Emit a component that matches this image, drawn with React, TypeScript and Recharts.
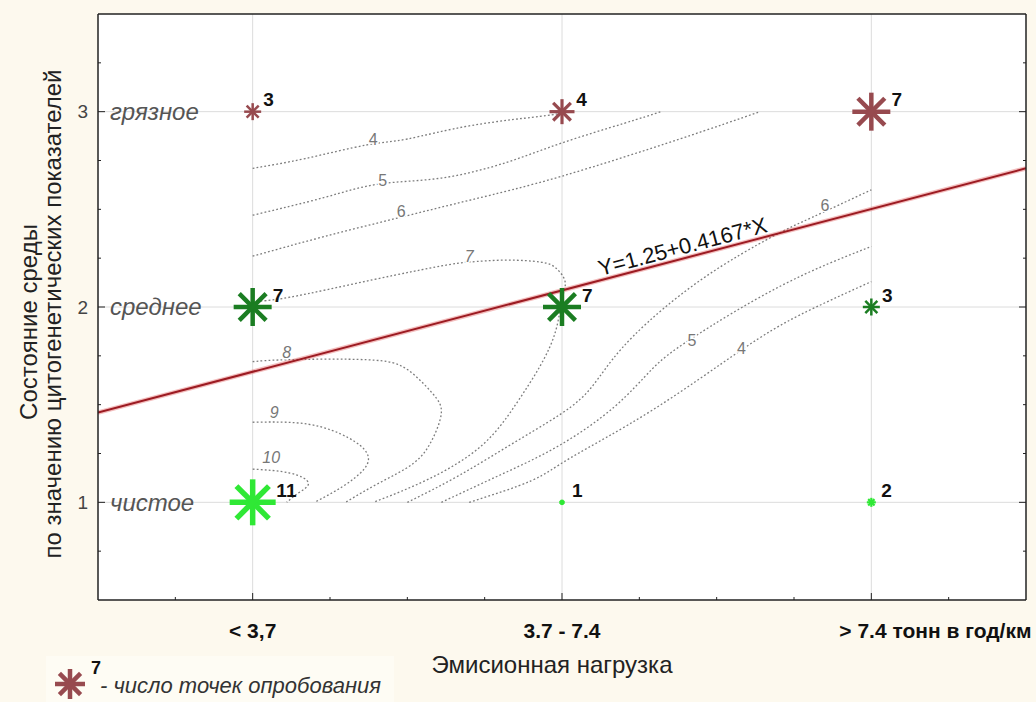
import React from "react";
import {
  ComposedChart, XAxis, YAxis, CartesianGrid, Line, Scatter, ReferenceLine,
} from "recharts";

const FONT = '"Liberation Sans", Arial, sans-serif';

// categories on both axes (positions 1..3)
const catPos = [1, 2, 3];
const emissionCats = ["< 3,7", "3.7 - 7.4", "> 7.4 тонн в год/км"];
const stateCats = ["чистое", "среднее", "грязное"];
const minorTicks = [0.75, 1, 1.25, 1.5, 1.75, 2, 2.25, 2.5, 2.75, 3, 3.25];

// number of sampling points in each cell
const polluted = [
  { x: 1, y: 3, n: 3 },
  { x: 2, y: 3, n: 4 },
  { x: 3, y: 3, n: 7 },
];
const medium = [
  { x: 1, y: 2, n: 7 },
  { x: 2, y: 2, n: 7 },
  { x: 3, y: 2, n: 3 },
];
const clean = [
  { x: 1, y: 1, n: 11 },
  { x: 2, y: 1, n: 1 },
  { x: 3, y: 1, n: 2 },
];

// regression line, read at the plot edges
const regression = [
  { x: 0.5, y: 1.46 },
  { x: 3.5, y: 2.71 },
];
const eqLabel = [{ x: 2.39, y: 2.31, text: "Y=1.25+0.4167*X" }];

// contour lines
const c4a = [
  { x: 1.0, y: 2.71 }, { x: 1.17, y: 2.76 }, { x: 1.37, y: 2.83 }, { x: 1.5, y: 2.86 },
  { x: 1.71, y: 2.93 }, { x: 1.95, y: 2.98 }, { x: 2.0, y: 3.0 },
];
const c5a = [
  { x: 1.0, y: 2.47 }, { x: 1.23, y: 2.56 }, { x: 1.41, y: 2.63 }, { x: 1.61, y: 2.66 },
  { x: 1.82, y: 2.74 }, { x: 2.0, y: 2.84 }, { x: 2.2, y: 2.94 }, { x: 2.32, y: 3.0 },
];
const c6a = [
  { x: 1.0, y: 2.26 }, { x: 1.23, y: 2.36 }, { x: 1.48, y: 2.46 }, { x: 1.71, y: 2.55 },
  { x: 2.0, y: 2.67 }, { x: 2.38, y: 2.86 }, { x: 2.64, y: 3.0 },
];
const c7 = [
  { x: 1.0, y: 2.03 }, { x: 1.12, y: 2.05 }, { x: 1.39, y: 2.14 }, { x: 1.61, y: 2.21 },
  { x: 1.7, y: 2.23 }, { x: 1.82, y: 2.24 }, { x: 1.93, y: 2.23 }, { x: 1.98, y: 2.2 },
  { x: 2.01, y: 2.13 }, { x: 2.0, y: 2.04 }, { x: 1.98, y: 1.88 }, { x: 1.93, y: 1.7 },
  { x: 1.85, y: 1.5 }, { x: 1.74, y: 1.29 }, { x: 1.57, y: 1.12 }, { x: 1.39, y: 1.0 },
];
const c8 = [
  { x: 1.0, y: 1.72 }, { x: 1.11, y: 1.73 }, { x: 1.37, y: 1.73 }, { x: 1.5, y: 1.68 },
  { x: 1.58, y: 1.56 }, { x: 1.61, y: 1.46 }, { x: 1.58, y: 1.32 }, { x: 1.52, y: 1.2 },
  { x: 1.41, y: 1.1 }, { x: 1.3, y: 1.0 },
];
const c9 = [
  { x: 1.0, y: 1.41 }, { x: 1.18, y: 1.4 }, { x: 1.31, y: 1.33 }, { x: 1.37, y: 1.25 },
  { x: 1.36, y: 1.17 }, { x: 1.29, y: 1.08 }, { x: 1.2, y: 1.0 },
];
const c10 = [
  { x: 1.0, y: 1.17 }, { x: 1.12, y: 1.15 }, { x: 1.18, y: 1.1 }, { x: 1.15, y: 1.05 },
  { x: 1.11, y: 1.0 },
];
const c6b = [
  { x: 1.5, y: 1.0 }, { x: 1.67, y: 1.14 }, { x: 1.86, y: 1.32 }, { x: 2.03, y: 1.49 },
  { x: 2.12, y: 1.64 }, { x: 2.23, y: 1.85 }, { x: 2.45, y: 2.14 }, { x: 2.68, y: 2.36 },
  { x: 2.81, y: 2.46 }, { x: 3.0, y: 2.6 },
];
const c5b = [
  { x: 1.61, y: 1.0 }, { x: 1.8, y: 1.14 }, { x: 1.99, y: 1.29 }, { x: 2.17, y: 1.49 },
  { x: 2.29, y: 1.68 }, { x: 2.42, y: 1.84 }, { x: 2.71, y: 2.11 }, { x: 3.0, y: 2.31 },
];
const c4b = [
  { x: 1.7, y: 1.0 }, { x: 1.9, y: 1.11 }, { x: 2.03, y: 1.23 }, { x: 2.29, y: 1.47 },
  { x: 2.58, y: 1.78 }, { x: 2.77, y: 1.96 }, { x: 3.0, y: 2.13 },
];
const contours = [c4a, c5a, c6a, c7, c8, c9, c10, c6b, c5b, c4b];

const contourLabels = [
  { x: 1.39, y: 2.86, v: "4" },
  { x: 1.42, y: 2.65, v: "5" },
  { x: 1.48, y: 2.49, v: "6" },
  { x: 1.7, y: 2.26, v: "7" },
  { x: 1.11, y: 1.77, v: "8" },
  { x: 1.07, y: 1.46, v: "9" },
  { x: 1.06, y: 1.23, v: "10" },
  { x: 2.85, y: 2.52, v: "6" },
  { x: 2.42, y: 1.83, v: "5" },
  { x: 2.58, y: 1.79, v: "4" },
];

// star size / stroke by count (style lookup)
const starR: Record<number, number> = { 1: 2.5, 2: 4.5, 3: 8.5, 4: 12.5, 7: 19, 11: 23 };
const starW: Record<number, number> = { 1: 3, 2: 2.2, 3: 2.5, 4: 3.2, 7: 4.5, 11: 5.5 };

const BROWN = "#974a4f";
const DKGREEN = "#1b7d22";
const GREEN = "#2fe835";

function StarPath({ cx, cy, r, w, color }: any) {
  const d = r * 0.7071;
  return (
    <g stroke={color} strokeWidth={w} strokeLinecap="butt">
      <line x1={cx} y1={cy - r} x2={cx} y2={cy + r} />
      <line x1={cx - r} y1={cy} x2={cx + r} y2={cy} />
      <line x1={cx - d} y1={cy - d} x2={cx + d} y2={cy + d} />
      <line x1={cx - d} y1={cy + d} x2={cx + d} y2={cy - d} />
    </g>
  );
}

const makeStar = (color: string) => (props: any) => {
  const { cx, cy, payload } = props;
  const r = starR[payload.n] ?? 10;
  const w = starW[payload.n] ?? 3;
  return (
    <g>
      <StarPath cx={cx} cy={cy} r={r} w={w} color={color} />
      <text
        x={cx + Math.max(10, r * 0.9 + 3)}
        y={cy - 12}
        dy="0.35em"
        fontFamily={FONT}
        fontWeight="bold"
        fontSize={19}
        fill="#111"
      >
        {payload.n}
      </text>
    </g>
  );
};

const ContourLabel = (props: any) => {
  const { cx, cy, payload } = props;
  return (
    <text
      x={cx}
      y={cy}
      dy="0.35em"
      textAnchor="middle"
      fontFamily={FONT}
      fontSize={16}
      fontStyle={Number(payload.v) >= 7 ? "italic" : "normal"}
      fill="#777"
      stroke="#fff"
      strokeWidth={3}
      paintOrder="stroke"
    >
      {payload.v}
    </text>
  );
};

const EqLabel = (props: any) => {
  const { cx, cy, payload } = props;
  return (
    <text
      x={cx}
      y={cy}
      dy="0.35em"
      textAnchor="middle"
      fontFamily={FONT}
      fontSize={22}
      fill="#111"
      transform={`rotate(-14.8 ${cx} ${cy})`}
    >
      {payload.text}
    </text>
  );
};

const isMajor = (v: number) => catPos.indexOf(v) >= 0;

const BottomTick = (props: any) => {
  const { x, y, payload } = props;
  const i = catPos.indexOf(payload.value);
  return (
    <g>
      <line x1={x} x2={x} y1={y} y2={y - (i >= 0 ? 7 : 3)} stroke="#222" />
      {i >= 0 && (
        <text
          x={i === 2 ? x - 32 : x}
          y={y + 38}
          textAnchor={i === 2 ? "start" : "middle"}
          fontFamily={FONT}
          fontWeight="bold"
          fontSize={21}
          fill="#111"
        >
          {emissionCats[i]}
        </text>
      )}
    </g>
  );
};

const TopTick = (props: any) => {
  const { x, y, payload } = props;
  return <line x1={x} x2={x} y1={y} y2={y + (isMajor(payload.value) ? 7 : 3)} stroke="#222" />;
};

const LeftTick = (props: any) => {
  const { x, y, payload } = props;
  const i = catPos.indexOf(payload.value);
  return (
    <g>
      <line x1={x} x2={x + (i >= 0 ? 7 : 3)} y1={y} y2={y} stroke="#222" />
      {i >= 0 && (
        <>
          <text x={x - 10} y={y} dy="0.35em" textAnchor="end" fontFamily={FONT} fontSize={19} fill="#444">
            {catPos[i]}
          </text>
          <text x={x + 12} y={y} dy="0.35em" fontFamily={FONT} fontSize={24} fontStyle="italic" fill="#555">
            {stateCats[i]}
          </text>
        </>
      )}
    </g>
  );
};

const RightTick = (props: any) => {
  const { x, y, payload } = props;
  return <line x1={x} x2={x - (isMajor(payload.value) ? 7 : 3)} y1={y} y2={y} stroke="#222" />;
};

export default function App() {
  return (
    <div
      style={{
        position: "absolute",
        left: 0,
        top: 0,
        width: 1036,
        height: 702,
        background: "#fdf9ee",
        overflow: "hidden",
      }}
    >
      <svg width={1036} height={702} style={{ position: "absolute", left: 0, top: 0 }}>
        <rect x={46} y={656} width={348} height={46} fill="#fefcf4" />
      </svg>
      <div style={{ position: "absolute", left: 0, top: 0 }}>
        <ComposedChart width={1036} height={702} margin={{ top: 14, right: 10, bottom: 0, left: 0 }}>
          <CartesianGrid horizontal={false} vertical={false} fill="#ffffff" />
          <XAxis
            dataKey="x"
            type="number"
            domain={[0.5, 3.5]}
            allowDataOverflow
            ticks={minorTicks}
            interval={0}
            height={102}
            tickSize={0}
            tickMargin={0}
            tickLine={false}
            axisLine={{ stroke: "#222", strokeWidth: 1.5 }}
            tick={<BottomTick />}
          />
          <XAxis
            xAxisId="top"
            orientation="top"
            mirror
            type="number"
            domain={[0.5, 3.5]}
            allowDataOverflow
            ticks={minorTicks}
            interval={0}
            tickSize={0}
            tickMargin={0}
            tickLine={false}
            axisLine={{ stroke: "#222", strokeWidth: 1.5 }}
            tick={<TopTick />}
          />
          <YAxis
            dataKey="y"
            type="number"
            domain={[0.5, 3.5]}
            allowDataOverflow
            ticks={minorTicks}
            interval={0}
            width={98}
            tickSize={0}
            tickMargin={0}
            tickLine={false}
            axisLine={{ stroke: "#222", strokeWidth: 1.5 }}
            tick={<LeftTick />}
          />
          <YAxis
            yAxisId="right"
            orientation="right"
            mirror
            type="number"
            domain={[0.5, 3.5]}
            allowDataOverflow
            ticks={minorTicks}
            interval={0}
            tickSize={0}
            tickMargin={0}
            tickLine={false}
            axisLine={{ stroke: "#222", strokeWidth: 1.5 }}
            tick={<RightTick />}
          />
          {catPos.map((v) => (
            <ReferenceLine key={`vx${v}`} x={v} stroke="#dcdcdc" strokeWidth={1} />
          ))}
          {catPos.map((v) => (
            <ReferenceLine key={`hy${v}`} y={v} stroke="#dcdcdc" strokeWidth={1} />
          ))}
          {contours.map((c, i) => (
            <Line
              key={`c${i}`}
              data={c}
              dataKey="y"
              type="natural"
              stroke="#7c7c7c"
              strokeWidth={1.3}
              strokeDasharray="1.8 2.2"
              dot={false}
              activeDot={false}
              isAnimationActive={false}
            />
          ))}
          <Scatter data={contourLabels} shape={<ContourLabel />} isAnimationActive={false} />
          <Line
            data={regression}
            dataKey="y"
            type="linear"
            stroke="rgba(220,70,70,0.35)"
            strokeWidth={4.5}
            dot={false}
            activeDot={false}
            isAnimationActive={false}
          />
          <Line
            data={regression}
            dataKey="y"
            type="linear"
            stroke="#9c1b22"
            strokeWidth={2}
            dot={false}
            activeDot={false}
            isAnimationActive={false}
          />
          <Scatter data={eqLabel} shape={<EqLabel />} isAnimationActive={false} />
          <Scatter data={polluted} shape={makeStar(BROWN)} isAnimationActive={false} />
          <Scatter data={medium} shape={makeStar(DKGREEN)} isAnimationActive={false} />
          <Scatter data={clean} shape={makeStar(GREEN)} isAnimationActive={false} />
        </ComposedChart>
      </div>
      <svg
        width={1036}
        height={702}
        style={{ position: "absolute", left: 0, top: 0, pointerEvents: "none" }}
      >
        <text
          transform="translate(37 322) rotate(-90)"
          textAnchor="middle"
          fontFamily={FONT}
          fontSize={24}
          fill="#222"
        >
          Состояние среды
        </text>
        <text
          transform="translate(61 314) rotate(-90)"
          textAnchor="middle"
          fontFamily={FONT}
          fontSize={24}
          fill="#222"
        >
          по значению цитогенетических показателей
        </text>
        <text x={552} y={673} textAnchor="middle" fontFamily={FONT} fontSize={24} fill="#222">
          Эмисионная нагрузка
        </text>
        <StarPath cx={70} cy={684} r={15} w={4.5} color={BROWN} />
        <text x={91} y={674} fontFamily={FONT} fontWeight="bold" fontSize={18} fill="#111">
          7
        </text>
        <text x={100} y={693} fontFamily={FONT} fontSize={22} fontStyle="italic" fill="#333">
          - число точек опробования
        </text>
      </svg>
    </div>
  );
}
